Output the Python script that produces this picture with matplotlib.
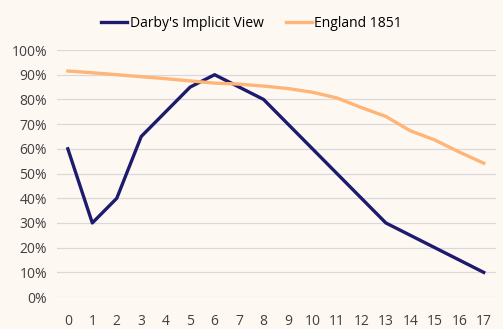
import numpy as np
import matplotlib.pyplot as plt
from matplotlib.ticker import PercentFormatter

# survival share by age
ages = list(range(18))
darby = [60, 30, 40, 65, 75, 85, 90, 85, 80, 70, 60, 50, 40, 30, 25, 20, 15, 10]
england_1851 = [91.5, 90.8, 90.0, 89.2, 88.4, 87.5, 86.6, 86.2, 85.4, 84.4, 82.9, 80.6, 76.7, 73.1, 67.3, 63.6, 58.7, 54.2]

bg = '#FEF8F3'
plt.rcParams['font.family'] = ['Open Sans', 'DejaVu Sans']

fig = plt.figure(figsize=(5.03, 3.29), dpi=100, facecolor=bg)
ax = fig.add_axes([0.113, 0.097, 0.873, 0.751], facecolor=bg)

ax.plot(ages, np.array(darby) / 100, color='#1E1A6E', lw=2.4, label="Darby's Implicit View")
ax.plot(ages, np.array(england_1851) / 100, color='#FFB577', lw=2.4, label='England 1851')

ax.set_xlim(-0.45, 17.5)
ax.set_ylim(0, 1)
ax.set_xticks(ages)
ax.set_yticks(np.arange(0, 1.01, 0.1))
ax.yaxis.set_major_formatter(PercentFormatter(1.0, decimals=0))
ax.grid(axis='y', color='#D9D9D9', lw=0.9)
ax.set_axisbelow(True)
for s in ax.spines.values():
    s.set_visible(False)
ax.tick_params(length=0, labelsize=10, colors='#404040', pad=7)
ax.tick_params(axis='x', pad=12)

fig.legend(loc='upper center', bbox_to_anchor=(0.5, 0.99), ncol=2, frameon=False,
           fontsize=10, handlelength=1.9, handletextpad=0.15, columnspacing=1.6)

fig.savefig('out.png', dpi=100, facecolor=bg)
